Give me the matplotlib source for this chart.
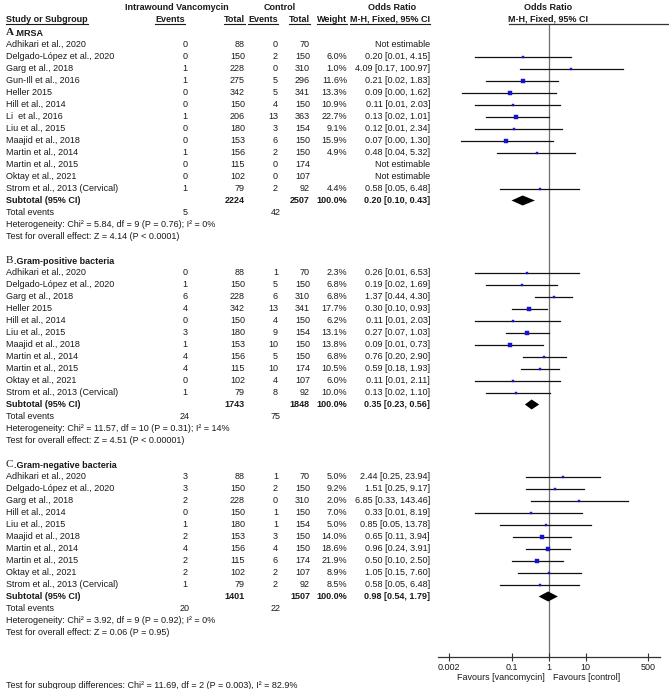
import matplotlib
matplotlib.use("Agg")
import matplotlib.pyplot as plt

plt.rcParams['font.family'] = ['Liberation Sans', 'DejaVu Sans']

# ---------------- data ----------------
studies_A = ["Adhikari et al., 2020", "Delgado-López et al., 2020", "Garg et al., 2018",
             "Gun-Ill et al., 2016", "Heller 2015", "Hill et al., 2014", "Li  et al., 2016",
             "Liu et al., 2015", "Maajid et al., 2018", "Martin et al., 2014",
             "Martin et al., 2015", "Oktay et al., 2021", "Strom et al., 2013 (Cervical)"]
vanco_ev_A = [0, 0, 1, 1, 0, 0, 1, 0, 0, 1, 0, 0, 1]
vanco_tot_A = [88, 150, 228, 275, 342, 150, 206, 180, 153, 156, 115, 102, 79]
ctrl_ev_A = [0, 2, 0, 5, 5, 4, 13, 3, 6, 2, 0, 0, 2]
ctrl_tot_A = [70, 150, 310, 296, 341, 150, 363, 154, 150, 150, 174, 107, 92]
weight_A = [None, 6.0, 1.0, 11.6, 13.3, 10.9, 22.7, 9.1, 15.9, 4.9, None, None, 4.4]
or_A = [None, 0.20, 4.09, 0.21, 0.09, 0.11, 0.13, 0.12, 0.07, 0.48, None, None, 0.58]
lo_A = [None, 0.01, 0.17, 0.02, 0.0046, 0.01, 0.02, 0.01, 0.0042, 0.04, None, None, 0.05]
hi_A = [None, 4.15, 100.97, 1.83, 1.62, 2.03, 1.01, 2.34, 1.30, 5.32, None, None, 6.48]

studies_B = ["Adhikari et al., 2020", "Delgado-López et al., 2020", "Garg et al., 2018",
             "Heller 2015", "Hill et al., 2014", "Liu et al., 2015", "Maajid et al., 2018",
             "Martin et al., 2014", "Martin et al., 2015", "Oktay et al., 2021",
             "Strom et al., 2013 (Cervical)"]
vanco_ev_B = [0, 1, 6, 4, 0, 3, 1, 4, 4, 0, 1]
vanco_tot_B = [88, 150, 228, 342, 150, 180, 153, 156, 115, 102, 79]
ctrl_ev_B = [1, 5, 6, 13, 4, 9, 10, 5, 10, 4, 8]
ctrl_tot_B = [70, 150, 310, 341, 150, 154, 150, 150, 174, 107, 92]
weight_B = [2.3, 6.8, 6.8, 17.7, 6.2, 13.1, 13.8, 6.8, 10.5, 6.0, 10.0]
or_B = [0.26, 0.19, 1.37, 0.30, 0.11, 0.27, 0.09, 0.76, 0.59, 0.11, 0.13]
lo_B = [0.01, 0.02, 0.44, 0.10, 0.01, 0.07, 0.01, 0.20, 0.18, 0.01, 0.02]
hi_B = [6.53, 1.69, 4.30, 0.93, 2.03, 1.03, 0.73, 2.90, 1.93, 2.11, 1.10]

studies_C = ["Adhikari et al., 2020", "Delgado-López et al., 2020", "Garg et al., 2018",
             "Hill et al., 2014", "Liu et al., 2015", "Maajid et al., 2018",
             "Martin et al., 2014", "Martin et al., 2015", "Oktay et al., 2021",
             "Strom et al., 2013 (Cervical)"]
vanco_ev_C = [3, 3, 2, 0, 1, 2, 4, 2, 2, 1]
vanco_tot_C = [88, 150, 228, 150, 180, 153, 156, 115, 102, 79]
ctrl_ev_C = [1, 2, 0, 1, 1, 3, 4, 6, 2, 2]
ctrl_tot_C = [70, 150, 310, 150, 154, 150, 150, 174, 107, 92]
weight_C = [5.0, 9.2, 2.0, 7.0, 5.0, 14.0, 18.6, 21.9, 8.9, 8.5]
or_C = [2.44, 1.51, 6.85, 0.33, 0.85, 0.65, 0.96, 0.50, 1.05, 0.58]
lo_C = [0.25, 0.25, 0.33, 0.01, 0.05, 0.11, 0.24, 0.10, 0.15, 0.05]
hi_C = [23.94, 9.17, 143.46, 8.19, 13.78, 3.94, 3.91, 2.50, 7.60, 6.48]

group_letters = ["A", "B", "C"]
group_titles = [".MRSA", ".Gram-positive bacteria", ".Gram-negative bacteria"]
sub_or = [0.20, 0.35, 0.98]
sub_lo = [0.10, 0.23, 0.54]
sub_hi = [0.43, 0.56, 1.79]
het_texts = ["Heterogeneity: Chi² = 5.84, df = 9 (P = 0.76); I² = 0%",
             "Heterogeneity: Chi² = 11.57, df = 10 (P = 0.31); I² = 14%",
             "Heterogeneity: Chi² = 3.92, df = 9 (P = 0.92); I² = 0%"]
test_texts = ["Test for overall effect: Z = 4.14 (P < 0.0001)",
              "Test for overall effect: Z = 4.51 (P < 0.00001)",
              "Test for overall effect: Z = 0.06 (P = 0.95)"]
subgroup_text = "Test for subgroup differences: Chi² = 11.69, df = 2 (P = 0.003), I² = 82.9%"
tick_vals = [0.002, 0.1, 1, 10, 500]
tick_labels = ["0.002", "0.1", "1", "10", "500"]

# ---------------- layout ----------------
W, H = 669, 689
fig = plt.figure(figsize=(W / 100, H / 100), dpi=100)
ax = fig.add_axes([0, 0, 1, 1])
ax.set_xlim(0, W)
ax.set_ylim(H, 0)
ax.axis('off')

FS = 6.5
TXT = '#1a1a1a'
X_NAME, X_VEV, X_VTOT, X_CEV, X_CTOT, X_W, X_OR = 6, 185, 245, 278, 310, 347, 430
Y0, STEP = 32.5, 12.0
PLOT_TOP, PLOT_BOT = 25, 657
X_ONE, PX_DEC = 548.5, 37.0

ax2 = fig.add_axes([(X_ONE - 3 * PX_DEC) / W, (H - PLOT_BOT) / H,
                    6 * PX_DEC / W, (PLOT_BOT - PLOT_TOP) / H])
ax2.set_xscale('log')
ax2.set_xlim(0.001, 1000)
ax2.set_ylim(PLOT_BOT, PLOT_TOP)
ax2.patch.set_alpha(0)
for s in ['top', 'left', 'right']:
    ax2.spines[s].set_visible(False)
ax2.spines['bottom'].set_color('#333333')
ax2.spines['bottom'].set_linewidth(0.9)
ax2.set_yticks([])
ax2.set_xticks(tick_vals)
ax2.set_xticklabels(tick_labels)
ax2.minorticks_off()
ax2.tick_params(axis='x', direction='inout', length=6, width=0.8, color='#333333',
                labelsize=FS, labelcolor=TXT, pad=1)
ax2.plot([1, 1], [PLOT_TOP, PLOT_BOT], color='#6e6e6e', lw=0.9, zorder=1)


def t(x, y, s, ha='left', bold=False, **kw):
    return ax.text(x, y, s, ha=ha, va='center', fontsize=kw.pop('fs', FS), color=TXT,
                   fontweight='bold' if bold else 'normal', **kw)


# headers
renderer = fig.canvas.get_renderer()
t(177, 8, "Intrawound Vancomycin", ha='center', bold=True)
t(280, 8, "Control", ha='center', bold=True)
t(392, 8, "Odds Ratio", ha='center', bold=True)
t(X_ONE, 8, "Odds Ratio", ha='center', bold=True)
heads = [t(X_NAME, 19, "Study or Subgroup", bold=True),
         t(X_VEV, 19, "Events", ha='right', bold=True),
         t(X_VTOT, 19, "Total", ha='right', bold=True),
         t(X_CEV, 19, "Events", ha='right', bold=True),
         t(X_CTOT, 19, "Total", ha='right', bold=True),
         t(X_W, 19, "Weight", ha='right', bold=True),
         t(X_OR, 19, "M-H, Fixed, 95% CI", ha='right', bold=True)]
hr = t(X_ONE, 19, "M-H, Fixed, 95% CI", ha='center', bold=True)
inv = ax.transData.inverted()
for h in heads:
    bb = h.get_window_extent(renderer)
    (x0, _), (x1, _) = inv.transform([(bb.x0, 0), (bb.x1, 0)])
    ax.plot([x0, x1], [24.3, 24.3], color=TXT, lw=0.8)
bb = hr.get_window_extent(renderer)
x0 = inv.transform([(bb.x0, 0)])[0][0]
ax.plot([x0, W], [24.3, 24.3], color='#333333', lw=0.9)

groups = [
    (studies_A, vanco_ev_A, vanco_tot_A, ctrl_ev_A, ctrl_tot_A, weight_A, or_A, lo_A, hi_A),
    (studies_B, vanco_ev_B, vanco_tot_B, ctrl_ev_B, ctrl_tot_B, weight_B, or_B, lo_B, hi_B),
    (studies_C, vanco_ev_C, vanco_tot_C, ctrl_ev_C, ctrl_tot_C, weight_C, or_C, lo_C, hi_C),
]

row = 0
for gi, (names, vev, vtot, cev, ctot, wts, ors, los, his) in enumerate(groups):
    y = Y0 + row * STEP
    ax.text(X_NAME, y, group_letters[gi], ha='left', va='center', fontsize=8.0,
            family=['Liberation Serif'], color=TXT,
            fontweight='bold' if gi == 0 else 'normal')
    t(X_NAME + 8, y + 0.5, group_titles[gi], bold=True)
    row += 1
    for i, name in enumerate(names):
        y = Y0 + row * STEP
        t(X_NAME, y, name)
        t(X_VEV, y, str(vev[i]), ha='center')
        t(X_VTOT, y, str(vtot[i]), ha='right')
        t(X_CEV, y, str(cev[i]), ha='right')
        t(X_CTOT, y, str(ctot[i]), ha='right')
        if ors[i] is None:
            t(X_OR, y, "Not estimable", ha='right')
        else:
            t(X_W, y, f"{wts[i]:.1f}%", ha='right')
            t(X_OR, y, f"{ors[i]:.2f} [{los[i]:.2f}, {his[i]:.2f}]", ha='right')
            ax2.plot([los[i], his[i]], [y, y], color='#111111', lw=0.9, zorder=2)
            side = max(2.0, 0.9 * wts[i] ** 0.5)
            ax2.plot([ors[i]], [y], marker='s', ms=side * 0.72, color='#1414d2',
                     mec='#1414d2', mew=0.3, zorder=3)
        row += 1
    # subtotal
    y = Y0 + row * STEP
    t(X_NAME, y, "Subtotal (95% CI)", bold=True)
    t(X_VTOT, y, str(sum(vtot)), ha='right', bold=True)
    t(X_CTOT, y, str(sum(ctot)), ha='right', bold=True)
    t(X_W, y, "100.0%", ha='right', bold=True)
    t(X_OR, y, f"{sub_or[gi]:.2f} [{sub_lo[gi]:.2f}, {sub_hi[gi]:.2f}]", ha='right', bold=True)
    hh = 5.0
    ax2.fill([sub_lo[gi], sub_or[gi], sub_hi[gi], sub_or[gi]],
             [y, y - hh, y, y + hh], color='black', lw=0, zorder=3)
    row += 1
    y = Y0 + row * STEP
    t(X_NAME, y, "Total events")
    t(X_VEV, y, str(sum(vev)), ha='center')
    t(X_CEV + 3, y, str(sum(cev)), ha='right')
    row += 1
    t(X_NAME, Y0 + row * STEP, het_texts[gi])
    row += 1
    t(X_NAME, Y0 + row * STEP, test_texts[gi])
    row += 2

t(545, 677, "Favours [vancomycin]", ha='right')
t(553, 677, "Favours [control]", ha='left')
t(X_NAME, 685, subgroup_text)

fig.savefig("out.png", dpi=100)
